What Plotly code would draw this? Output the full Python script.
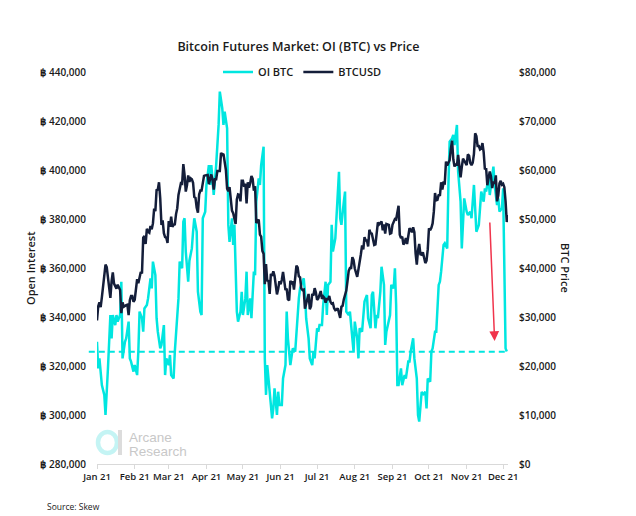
import pandas as pd
import plotly.graph_objects as go

# ---------------- data ----------------
# BTCUSD daily close (thousand USD), 2021-01-01 .. 2021-12-05
btc_close_k = [
    # Jan
    29.3, 32.2, 33.0, 32.0, 34.0, 36.8, 39.4, 40.7, 40.2, 38.3, 35.5, 33.9, 37.3, 39.1, 36.8, 36.1,
    35.8, 36.6, 36.0, 35.5, 30.8, 33.0, 32.1, 32.3, 32.4, 32.5, 30.4, 33.4, 34.3, 34.3, 33.1,
    # Feb
    33.5, 35.5, 37.7, 36.9, 38.3, 39.2, 38.9, 46.2, 46.5, 44.9, 48.0, 47.4, 47.2, 48.6, 47.9, 49.1,
    52.1, 51.6, 55.9, 56.0, 57.5, 54.2, 48.8, 49.7, 47.1, 46.3, 46.2, 45.1,
    # Mar
    49.6, 48.4, 50.5, 48.4, 48.8, 48.9, 51.0, 52.2, 54.9, 55.9, 57.3, 57.2, 61.2, 59.0, 55.6, 56.9,
    58.9, 57.6, 58.3, 58.1, 57.4, 54.5, 54.3, 52.3, 51.3, 55.0, 55.8, 55.8, 57.6, 58.8, 58.9,
    # Apr
    59.0, 59.0, 57.1, 58.2, 59.1, 58.0, 56.0, 58.1, 58.1, 59.8, 59.8, 59.8, 63.5, 63.1, 63.3, 61.5,
    60.0, 56.2, 55.7, 56.5, 53.8, 51.7, 51.2, 50.1, 49.0, 54.0, 55.0, 54.9, 53.6, 57.8,
    # May
    57.8, 56.6, 57.2, 53.2, 57.5, 56.4, 57.3, 58.8, 58.2, 55.8, 56.7, 49.2, 49.7, 49.9, 46.8, 46.4,
    43.5, 42.9, 36.7, 40.8, 37.3, 37.5, 34.7, 38.8, 38.4, 39.3, 38.4, 35.7, 34.6, 35.7, 37.3,
    # Jun
    36.7, 37.6, 39.2, 36.9, 35.5, 35.8, 33.6, 33.4, 37.4, 36.7, 37.3, 35.6, 39.1, 40.5, 40.1, 38.3,
    38.1, 35.8, 35.5, 35.6, 31.7, 32.5, 33.7, 34.7, 31.6, 32.2, 34.7, 34.4, 35.9, 35.0,
    # Jul
    33.5, 33.8, 34.7, 35.3, 33.7, 34.2, 33.9, 32.9, 33.8, 33.5, 34.3, 33.1, 32.7, 32.8, 31.8, 31.4,
    31.5, 31.8, 30.8, 29.8, 32.1, 32.3, 33.6, 34.3, 35.4, 37.3, 39.4, 40.0, 40.0, 42.2, 41.6,
    # Aug
    39.9, 39.2, 38.2, 39.7, 40.9, 42.8, 44.6, 43.8, 46.3, 45.6, 45.6, 44.4, 47.8, 47.1, 47.0, 46.0,
    44.7, 44.8, 46.7, 49.3, 48.9, 49.3, 49.5, 47.7, 48.9, 47.0, 49.0, 48.9, 48.8, 47.0, 47.1,
    # Sep
    48.8, 49.3, 50.0, 49.9, 51.8, 52.7, 46.8, 46.1, 46.4, 44.8, 45.2, 46.1, 44.9, 47.1, 48.1, 47.8,
    47.3, 48.3, 47.3, 43.0, 40.7, 43.6, 44.9, 42.8, 42.7, 43.2, 42.2, 41.0, 41.5, 43.8,
    # Oct
    48.1, 47.7, 48.2, 49.1, 51.5, 55.3, 53.8, 53.9, 55.0, 54.7, 57.5, 56.0, 57.4, 57.3, 61.7, 60.9,
    61.5, 62.0, 64.3, 66.0, 62.2, 60.7, 61.3, 60.9, 63.1, 60.4, 58.5, 60.6, 62.3, 61.9, 61.3,
    # Nov
    61.0, 63.2, 62.9, 61.4, 61.0, 61.5, 63.3, 67.5, 66.9, 64.9, 64.9, 64.2, 64.4, 65.5, 63.6, 60.1,
    60.4, 56.9, 58.1, 59.7, 58.7, 56.3, 57.6, 57.2, 58.9, 53.6, 54.8, 57.3, 57.8, 57.0,
    # Dec
    57.2, 56.5, 53.6, 49.4, 50.8,
]
btc_start = "2021-01-01"

# Open interest (thousand BTC), sampled at day offsets from 2021-01-01
oi_day = [
    0, 1, 2, 4, 6, 7, 9, 11, 12, 13, 15, 16, 17, 19, 20, 21, 23, 24, 26, 27, 28, 30, 31, 33, 34, 35,
    37, 38, 39, 41, 42, 44, 45, 46, 48, 49, 50, 52, 53, 55, 56, 57, 59, 60, 61, 63, 64, 66, 67, 68,
    70, 71, 72, 73, 75, 76, 78, 79, 80, 82, 83, 85, 86, 87, 89, 90, 92, 93, 94, 96, 97, 98, 100, 101,
    103, 104, 105, 107, 108, 109, 111, 112, 113, 115, 116, 118, 119, 120, 122, 123, 124, 126, 127,
    129, 130, 131, 133, 134, 135, 137, 138, 139, 140, 141, 143, 144, 145, 146, 148, 149, 150, 152,
    153, 155, 156, 157, 159, 160, 161, 163, 164, 166, 167, 168, 170, 171, 172, 174, 175, 177, 178,
    179, 181, 182, 183, 185, 186, 188, 189, 190, 192, 193, 194, 196, 197, 199, 200, 201, 203, 204,
    205, 207, 208, 210, 211, 212, 214, 215, 216, 218, 219, 220, 222, 223, 225, 226, 227, 229, 230,
    231, 233, 234, 236, 237, 238, 240, 241, 242, 244, 245, 246, 247, 248, 250, 251, 253, 254, 256,
    257, 258, 260, 261, 263, 264, 265, 267, 268, 270, 271, 272, 274, 275, 276, 278, 279, 281, 282,
    283, 285, 286, 288, 289, 290, 292, 293, 294, 296, 297, 299, 300, 301, 302, 304, 305, 307, 308,
    310, 311, 312, 314, 315, 316, 318, 319, 320, 322, 323, 325, 326, 327, 329, 330, 331, 333, 334,
    336, 337,
]
oi_k = [
    329.9, 319.0, 323.1, 312.2, 308.2, 300.0, 319.0, 340.8, 331.3, 340.8, 336.7, 340.8, 338.1, 340.8,
    354.4, 323.1, 329.9, 331.3, 338.1, 323.1, 321.8, 317.7, 320.4, 316.3, 325.9, 342.2, 339.5, 334.0,
    343.5, 344.9, 347.6, 355.8, 351.7, 362.6, 357.1, 339.5, 334.0, 327.2, 328.6, 336.7, 316.3, 323.1,
    320.4, 324.5, 316.3, 314.9, 325.9, 340.8, 347.6, 362.6, 359.9, 378.9, 380.3, 366.7, 354.4, 363.0,
    368.0, 374.8, 380.3, 374.8, 350.3, 342.2, 340.8, 380.3, 383.0, 393.9, 402.0, 393.9, 402.0, 389.8,
    395.2, 402.0, 418.4, 432.0, 425.2, 418.4, 423.8, 417.0, 377.6, 370.7, 380.3, 369.4, 377.6, 342.2,
    338.1, 342.2, 350.3, 340.8, 347.6, 358.5, 340.8, 347.6, 339.5, 358.5, 357.1, 387.1, 396.6, 393.9,
    402.0, 409.5, 323.1, 308.2, 320.4, 314.9, 305.4, 298.6, 302.7, 310.9, 300.0, 309.5, 304.1, 304.1,
    314.9, 320.4, 342.2, 331.3, 320.4, 324.5, 327.2, 325.9, 334.0, 347.6, 351.7, 353.1, 355.8, 350.3,
    339.5, 331.3, 323.1, 320.4, 325.9, 323.1, 335.4, 334.0, 336.7, 336.7, 344.9, 354.4, 340.8, 353.1,
    354.4, 377.6, 366.7, 372.1, 380.3, 399.3, 380.3, 377.6, 387.1, 391.2, 342.2, 340.8, 342.2, 328.6,
    325.9, 338.1, 331.3, 323.1, 335.4, 334.0, 342.2, 346.3, 349.0, 339.5, 335.4, 349.0, 350.3, 335.4,
    340.8, 339.5, 350.3, 360.5, 353.1, 328.6, 334.0, 339.5, 340.8, 353.1, 351.7, 359.9, 344.9, 312.2,
    312.2, 319.0, 312.2, 316.3, 314.9, 321.8, 321.8, 325.9, 331.3, 323.1, 314.9, 300.0, 297.3, 309.5,
    308.2, 309.5, 302.7, 314.9, 313.6, 325.9, 327.2, 334.0, 334.0, 353.1, 354.4, 358.5, 369.4, 370.1,
    368.0, 393.9, 411.6, 412.9, 414.3, 410.2, 418.4, 399.3, 387.1, 368.0, 380.3, 388.4, 383.0, 381.6,
    383.0, 380.3, 393.9, 383.0, 374.8, 377.6, 385.7, 391.2, 387.1, 392.5, 391.2, 396.6, 389.8, 399.3,
    401.4, 393.9, 385.7, 388.4, 383.0, 384.4, 392.5, 327.2, 325.9,
]

month_ticks = ["2021-01-01", "2021-02-01", "2021-03-01", "2021-04-01", "2021-05-01", "2021-06-01",
               "2021-07-01", "2021-08-01", "2021-09-01", "2021-10-01", "2021-11-01", "2021-12-01"]
month_labels = ["Jan 21", "Feb 21", "Mar 21", "Apr 21", "May 21", "Jun 21",
                "Jul 21", "Aug 21", "Sep 21", "Oct 21", "Nov 21", "Dec 21"]

oi_ref_level = 325800           # dashed reference level
arrow_start = ("2021-11-20", 379200)
arrow_end = ("2021-11-24", 330200)

# ---------------- figure ----------------
CYAN = "#00E6E0"
NAVY = "#141E3A"
FONT = "Open Sans"

start = pd.Timestamp(btc_start)
btc_dates = pd.date_range(start, periods=len(btc_close_k), freq="D")
oi_dates = [start + pd.Timedelta(days=d) for d in oi_day]

fig = go.Figure()
fig.add_trace(go.Scatter(
    x=oi_dates, y=[v * 1000 for v in oi_k], name="OI BTC", mode="lines",
    line=dict(color=CYAN, width=2.5), yaxis="y"))
fig.add_trace(go.Scatter(
    x=btc_dates, y=[v * 1000 for v in btc_close_k], name="BTCUSD", mode="lines",
    line=dict(color=NAVY, width=2.5), yaxis="y2"))

tickfont = dict(family=FONT, size=10, color="#1a1a1a", weight=600)
xtickfont = dict(family=FONT, size=9.5, color="#1a1a1a", weight=600)

fig.update_layout(
    width=636, height=516,
    margin=dict(l=97, r=128, t=72, b=52),
    paper_bgcolor="white", plot_bgcolor="white",
    font=dict(family=FONT, color="#1a1a1a"),
    title=dict(text="Bitcoin Futures Market: OI (BTC) vs Price",
               font=dict(family=FONT, size=12.5, color="#1a1a1a", weight=600),
               x=0.49, xref="paper", xanchor="center",
               y=1 - 47 / 516, yref="container", yanchor="middle"),
    showlegend=True,
    legend=dict(orientation="h", x=0.5, xanchor="center", y=1.0, yanchor="middle",
                bgcolor="rgba(0,0,0,0)", font=dict(family=FONT, size=11, color="#1a1a1a", weight=600),
                itemwidth=30, tracegroupgap=0),
    xaxis=dict(range=["2021-01-01", "2021-12-05"], tickvals=month_ticks, ticktext=month_labels,
               tickangle=0, automargin=False,
               showgrid=False, zeroline=False, showline=True, linecolor="#d9d9d9", linewidth=1,
               ticks="outside", ticklen=4, tickcolor="#d9d9d9", tickfont=xtickfont),
    yaxis=dict(range=[280000, 440000], dtick=20000, tickprefix="฿ ", tickformat=",d",
               automargin=False,
               showgrid=False, zeroline=False, showline=False, tickfont=tickfont,
               ticklabelstandoff=10),
    yaxis2=dict(range=[0, 80000], dtick=10000, tickprefix="$", tickformat=",d",
                automargin=False,
                overlaying="y", side="right", showgrid=False, zeroline=False, showline=False,
                tickfont=tickfont, ticklabelstandoff=10),
)

# dashed reference line
fig.add_shape(type="line", xref="paper", yref="y", x0=-0.02, x1=0.998,
              y0=oi_ref_level, y1=oi_ref_level,
              line=dict(color=CYAN, width=2, dash="6px,4px"))

# red arrow
fig.add_annotation(x=arrow_end[0], y=arrow_end[1], ax=arrow_start[0], ay=arrow_start[1],
                   xref="x", yref="y", axref="x", ayref="y", text="", showarrow=True,
                   arrowhead=2, arrowsize=1.3, arrowwidth=1.5, arrowcolor="#F0344C")

# axis titles
fig.add_annotation(text="Open Interest", xref="paper", yref="paper", x=-0.163, y=0.5,
                   textangle=-90, showarrow=False, xanchor="center", yanchor="middle",
                   font=dict(family=FONT, size=11, color="#1a1a1a", weight=600))
fig.add_annotation(text="BTC Price", xref="paper", yref="paper", x=1.141, y=0.5,
                   textangle=90, showarrow=False, xanchor="center", yanchor="middle",
                   font=dict(family=FONT, size=11, color="#1a1a1a", weight=600))

# source
fig.add_annotation(text="Source: Skew", xref="paper", yref="paper", x=-0.127, y=-0.108,
                   showarrow=False, xanchor="left", yanchor="middle",
                   font=dict(family=FONT, size=8.5, color="#1a1a1a"))

# watermark logo
def px_x(p):
    return (p - 97) / 411.0

def px_y(p):
    return (464 - p) / 392.0

fig.add_shape(type="circle", xref="paper", yref="paper",
              x0=px_x(98), x1=px_x(117), y0=px_y(453), y1=px_y(432),
              line=dict(color="#C4F4F4", width=4.5), layer="below")
fig.add_shape(type="rect", xref="paper", yref="paper",
              x0=px_x(118), x1=px_x(122), y0=px_y(455), y1=px_y(430),
              line=dict(width=0), fillcolor="#DCDCDC", layer="below")
fig.add_annotation(text="Arcane", xref="paper", yref="paper", x=px_x(127), y=px_y(437.5),
                   showarrow=False, xanchor="left", yanchor="middle",
                   font=dict(family="Liberation Sans", size=13.5, color="#C8C8C8"))
fig.add_annotation(text="Research", xref="paper", yref="paper", x=px_x(127), y=px_y(451.5),
                   showarrow=False, xanchor="left", yanchor="middle",
                   font=dict(family="Liberation Sans", size=13.5, color="#C8C8C8"))

fig.write_html("out.html", config={"displayModeBar": False},
               post_script="document.body.style.margin='0px';document.body.style.overflow='hidden';")
